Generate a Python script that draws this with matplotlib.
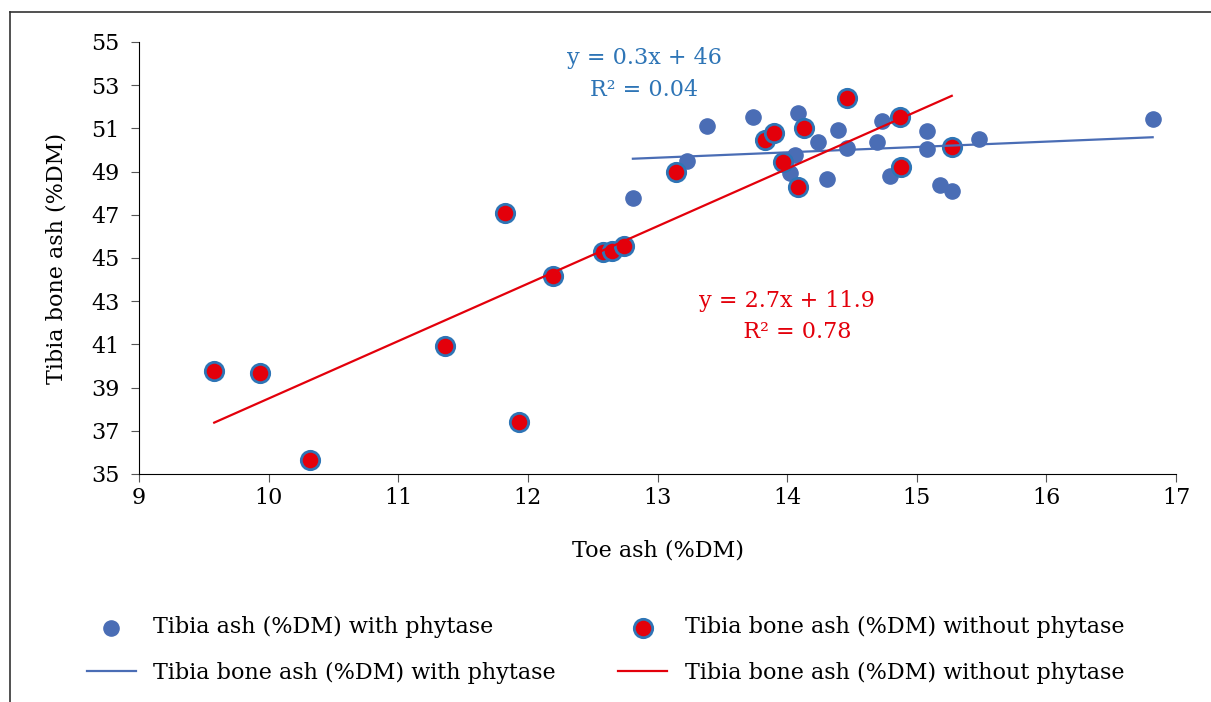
import matplotlib.pyplot as plt
import matplotlib
import numpy as np
from matplotlib.lines import Line2D

matplotlib.rcParams.update({'font.size': 16, 'font.family': 'DejaVu Serif'})

# Tibia ash with phytase (toe ash, tibia ash)
toe_with = [12.81, 13.23, 13.38, 13.74, 14.08, 14.06, 14.02, 14.24, 14.39, 14.46,
            14.31, 14.73, 14.69, 14.79, 15.08, 15.08, 15.18, 15.27, 15.48, 16.82]
tibia_with = [47.78, 49.49, 51.11, 51.53, 51.71, 49.77, 48.94, 50.37, 50.93, 50.09,
              48.66, 51.34, 50.37, 48.80, 50.88, 50.05, 48.38, 48.10, 50.51, 51.44]

# Tibia ash without phytase
toe_without = [9.58, 9.93, 10.32, 11.36, 11.82, 11.93, 12.19, 12.58, 12.65, 12.74,
               13.14, 13.83, 13.90, 14.13, 13.97, 14.08, 14.46, 14.87, 14.88, 15.27]
tibia_without = [39.77, 39.68, 35.65, 40.93, 47.08, 37.41, 44.17, 45.28, 45.32, 45.56,
                 48.98, 50.46, 50.79, 51.02, 49.44, 48.29, 52.41, 51.53, 49.21, 50.14]

xticks = [9, 10, 11, 12, 13, 14, 15, 16, 17]
yticks = [35, 37, 39, 41, 43, 45, 47, 49, 51, 53, 55]

blue = '#4a6db5'
blue_txt = '#2e75b6'
red = '#e3000b'

fig = plt.figure(figsize=(12.11, 7.02), dpi=100)
ax = fig.add_axes([0.1148, 0.3248, 0.8563, 0.6154])

# trendlines
pb = np.polyfit(toe_with, tibia_with, 1)
pr = np.polyfit(toe_without, tibia_without, 1)
xb = np.array([min(toe_with), max(toe_with)])
xr = np.array([min(toe_without), max(toe_without)])

ax.scatter(toe_with, tibia_with, s=120, color=blue, zorder=3,
           label='Tibia ash (%DM) with phytase')
ax.scatter(toe_without, tibia_without, s=175, color=red, edgecolor=blue_txt,
           linewidth=2.0, zorder=4, label='Tibia bone ash (%DM) without phytase')
ax.plot(xb, np.polyval(pb, xb), color=blue, lw=1.6, zorder=5,
        label='Tibia bone ash (%DM) with phytase')
ax.plot(xr, np.polyval(pr, xr), color=red, lw=1.6, zorder=5,
        label='Tibia bone ash (%DM) without phytase')

ax.text(12.9, 54.75, 'y = 0.3x + 46\nR² = 0.04', color=blue_txt, ha='center',
        va='top', fontsize=16, linespacing=1.55)
ax.text(14.0, 43.5, 'y = 2.7x + 11.9\n   R² = 0.78', color=red, ha='center',
        va='top', fontsize=16, linespacing=1.5)

ax.set_xlim(9, 17)
ax.set_ylim(35, 55)
ax.set_xticks(xticks)
ax.set_yticks(yticks)
ax.spines['top'].set_visible(False)
ax.spines['right'].set_visible(False)
ax.tick_params(direction='out', length=6, color='#555555', labelsize=16)
ax.tick_params(axis='y', pad=8)
ax.set_xlabel('Toe ash (%DM)', labelpad=22)
ax.set_ylabel('Tibia bone ash (%DM)', labelpad=17)

h, l = ax.get_legend_handles_labels()
order = [0, 2, 1, 3]
fig.legend([h[i] for i in order], [l[i] for i in order], ncol=2,
           loc='center', bbox_to_anchor=(0.500, 0.074), frameon=False,
           columnspacing=2.8, handlelength=2.2, fontsize=16, labelspacing=1.05)

# frame lines of the original figure
fig.add_artist(Line2D([0.008, 0.008], [0.0, 0.983], color='#333333', lw=1.2))
fig.add_artist(Line2D([0.008, 1.0], [0.983, 0.983], color='#333333', lw=1.2))

fig.savefig('out.png', dpi=100)
